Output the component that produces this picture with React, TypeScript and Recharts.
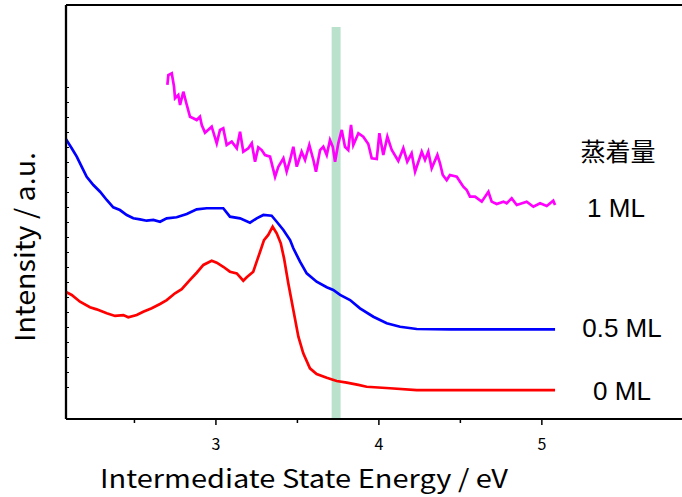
import React from "react";
import { LineChart, Line, XAxis, YAxis, ReferenceArea, ReferenceLine } from "recharts";

// Intermediate state energy (eV) and intensity (a.u.)
const ml0Energy = [
  2.08, 2.115, 2.166, 2.227, 2.268, 2.33, 2.381, 2.432, 2.462, 2.514,
  2.554, 2.606, 2.657, 2.698, 2.749, 2.79, 2.841, 2.882, 2.923, 2.974,
  3.005, 3.045, 3.086, 3.128, 3.168, 3.189, 3.229, 3.25, 3.271, 3.295,
  3.321, 3.348, 3.373, 3.398, 3.418, 3.444, 3.475, 3.506, 3.536, 3.577,
  3.618, 3.68, 3.741, 3.803, 3.874, 3.925, 4.068, 4.232, 4.437, 5.081,
];
const ml0Intensity = [
  8.37, 8.17, 7.72, 7.35, 7.21, 6.95, 6.77, 6.83, 6.68, 6.83,
  7.05, 7.28, 7.57, 7.83, 8.28, 8.55, 9.17, 9.65, 10.17, 10.45,
  10.32, 10.05, 9.72, 9.61, 9.12, 9.35, 9.72, 10.39, 11.05, 11.83,
  12.17, 12.72, 12.28, 11.61, 10.61, 8.95, 7.17, 5.39, 4.28, 3.28,
  2.9, 2.65, 2.43, 2.32, 2.17, 2.05, 1.95, 1.83, 1.83, 1.83,
];

const ml05Energy = [
  2.08, 2.115, 2.146, 2.176, 2.207, 2.248, 2.289, 2.33, 2.37, 2.411,
  2.453, 2.493, 2.534, 2.575, 2.616, 2.657, 2.698, 2.759, 2.821, 2.882,
  2.943, 3.005, 3.045, 3.086, 3.148, 3.209, 3.25, 3.291, 3.342, 3.373,
  3.414, 3.455, 3.475, 3.516, 3.557, 3.618, 3.68, 3.72, 3.762, 3.823,
  3.884, 3.966, 4.048, 4.13, 4.232, 4.437, 5.081,
];
const ml05Intensity = [
  18.55, 17.95, 17.39, 16.72, 16.05, 15.5, 15.05, 14.5, 14.01, 13.83,
  13.5, 13.28, 13.21, 13.12, 13.17, 13.05, 13.28, 13.35, 13.57, 13.88,
  13.95, 13.95, 13.95, 13.39, 13.28, 12.99, 13.28, 13.5, 13.45, 13.05,
  12.5, 11.83, 11.28, 10.39, 9.61, 9.05, 8.68, 8.5, 8.17, 7.83,
  7.28, 6.72, 6.28, 6.05, 5.9, 5.88, 5.88,
];

const ml1Energy = [
  2.702, 2.708, 2.729, 2.743, 2.749, 2.769, 2.78, 2.8, 2.816, 2.841,
  2.861, 2.882, 2.902, 2.913, 2.933, 2.974, 3.005, 3.025, 3.045, 3.066,
  3.097, 3.128, 3.148, 3.168, 3.199, 3.22, 3.24, 3.26, 3.281, 3.301,
  3.332, 3.363, 3.383, 3.414, 3.434, 3.455, 3.475, 3.496, 3.526, 3.547,
  3.573, 3.598, 3.614, 3.639, 3.659, 3.68, 3.7, 3.717, 3.731, 3.751,
  3.772, 3.792, 3.812, 3.829, 3.843, 3.874, 3.904, 3.935, 3.956, 3.987,
  4.003, 4.027, 4.052, 4.079, 4.119, 4.15, 4.174, 4.201, 4.222, 4.263,
  4.283, 4.303, 4.324, 4.359, 4.375, 4.392, 4.416, 4.436, 4.478, 4.498,
  4.518, 4.539, 4.559, 4.59, 4.631, 4.672, 4.692, 4.723, 4.764, 4.784,
  4.815, 4.846, 4.907, 4.948, 4.989, 5.03, 5.07, 5.081,
];
const ml1Intensity = [
  22.17, 22.83, 22.95, 22.05, 21.28, 21.5, 20.83, 21.72, 21.05, 20.05,
  19.95, 19.83, 20.05, 19.5, 18.99, 19.39, 18.28, 19.17, 19.28, 18.17,
  18.39, 17.95, 19.05, 17.72, 17.95, 18.28, 17.05, 18.01, 17.83, 17.5,
  17.39, 16.05, 16.72, 17.28, 16.39, 17.17, 18.05, 16.72, 17.72, 17.17,
  18.17, 17.17, 16.39, 17.83, 18.05, 17.5, 18.5, 18.05, 17.05, 18.28,
  19.17, 18.05, 17.83, 19.5, 18.17, 18.95, 18.72, 18.23, 17.28, 17.23,
  18.95, 17.5, 18.72, 17.83, 17.1, 17.95, 17.05, 17.61, 16.39, 17.72,
  17.17, 17.72, 16.61, 17.5, 16.95, 16.17, 15.83, 16.17, 16.05, 15.72,
  15.39, 15.17, 14.72, 14.72, 14.39, 15.05, 14.39, 14.23, 14.39, 14.28,
  14.61, 14.17, 14.39, 14.05, 14.28, 14.1, 14.45, 14.17,
];

const xTicks = [2.5, 3, 3.5, 4, 4.5, 5];
const yTicks = [2, 3, 4, 5, 6, 7, 8, 9, 10, 11, 12, 13, 14, 15, 16, 17, 18, 19, 20, 21, 22];
const bandRange = [3.71, 3.765];
const bandTop = 26.03;

const toPoints = (es: number[], vs: number[]) => es.map((e, i) => ({ e, v: vs[i] }));

const series = [
  { name: "0 ML", color: "#ff0000", data: toPoints(ml0Energy, ml0Intensity) },
  { name: "0.5 ML", color: "#0000ff", data: toPoints(ml05Energy, ml05Intensity) },
  { name: "1 ML", color: "#ff00ff", data: toPoints(ml1Energy, ml1Intensity) },
];

const JP = '"Noto Sans CJK JP", "Noto Sans", sans-serif';
const ARIAL = '"Liberation Sans", Arial, sans-serif';

function EnergyTick(props: any) {
  const { x, y, payload } = props;
  const major = Number.isInteger(payload.value);
  return (
    <g>
      <line x1={x} x2={x} y1={y} y2={y + (major ? 6 : 4)} stroke="#000" strokeWidth={1.5} />
      {major && (
        <text x={x} y={y + 31} textAnchor="middle" fontSize={16} fill="#000" fontFamily={JP}>
          {payload.value}
        </text>
      )}
    </g>
  );
}

// inward-pointing minor ticks on the intensity axis, no labels
function IntensityTick(props: any) {
  const { x, y } = props;
  return <line x1={x} x2={x + 3} y1={y} y2={y} stroke="#000" strokeWidth={1} />;
}

export default function App() {
  return (
    <div style={{ position: "absolute", left: 0, top: 0, background: "#fff" }}>
      <LineChart width={682} height={497} margin={{ top: 5, right: 0, bottom: 0, left: 65 }}>
        <XAxis
          type="number"
          dataKey="e"
          domain={[2.08, 5.86]}
          allowDataOverflow
          ticks={xTicks}
          interval={0}
          height={78}
          tickSize={0}
          tickMargin={0}
          tickLine={false}
          axisLine={{ stroke: "#000", strokeWidth: 2 }}
          tick={<EnergyTick />}
        />
        <YAxis
          type="number"
          dataKey="v"
          domain={[-0.1, 27.5]}
          allowDataOverflow
          ticks={yTicks}
          interval={0}
          width={1}
          tickSize={0}
          tickMargin={0}
          tickLine={false}
          tick={<IntensityTick />}
          axisLine={{ stroke: "#000", strokeWidth: 2.3 }}
        />
        <ReferenceLine y={27.5} stroke="#000" strokeWidth={2} />
        {series.map((s) => (
          <Line
            key={s.name}
            data={s.data}
            dataKey="v"
            name={s.name}
            type="linear"
            stroke={s.color}
            strokeWidth={2.7}
            dot={false}
            isAnimationActive={false}
          />
        ))}
        <ReferenceArea
          x1={bandRange[0]}
          x2={bandRange[1]}
          y1={-0.1}
          y2={bandTop}
          fill="#6cc095"
          fillOpacity={0.48}
          stroke="none"
        />
        <text x={304} y={488} textAnchor="middle" fontSize={25} fontFamily={JP} fill="#000"
          textLength={408} lengthAdjust="spacingAndGlyphs">
          Intermediate State Energy / eV
        </text>
        <text x={0} y={0} transform="translate(35,247) rotate(-90)" textAnchor="middle" fontSize={27}
          fontFamily={JP} fill="#000" textLength={190} lengthAdjust="spacingAndGlyphs">
          Intensity / a.u.
        </text>
        <text x={618} y={150} textAnchor="middle" dominantBaseline="central" fontSize={25} fontFamily={JP} fill="#000">
          蒸着量
        </text>
        <text x={616} y={217} textAnchor="middle" fontSize={26} fontFamily={ARIAL} fill="#000">1 ML</text>
        <text x={622} y={337} textAnchor="middle" fontSize={26} fontFamily={ARIAL} fill="#000">0.5 ML</text>
        <text x={622} y={400} textAnchor="middle" fontSize={26} fontFamily={ARIAL} fill="#000">0 ML</text>
      </LineChart>
    </div>
  );
}
